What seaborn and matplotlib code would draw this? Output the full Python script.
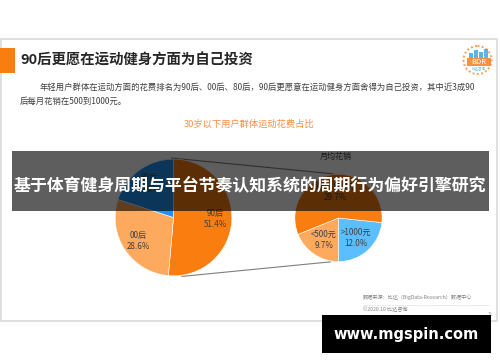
import numpy as np
import matplotlib
matplotlib.use("Agg")
import matplotlib.pyplot as plt
from matplotlib.patches import Rectangle, Circle
import seaborn as sns

# 数据
age_groups = ["90后", "00后", "80后"]
age_share = [51.4, 28.6, 20.0]
spend_groups = [">1000元", "<500元", "500-1000元"]
spend_share = [12.0, 9.7, 29.7]

page_title = "90后更愿在运动健身方面为自己投资"
intro_line1 = "年轻用户群体在运动方面的花费排名为90后、00后、80后，90后更愿意在运动健身方面舍得为自己投资，其中近3成90"
intro_line2 = "后每月花销在500到1000元。"
chart_title = "30岁以下用户群体运动花费占比"
sub_title = "月均花销"
banner_text = "基于体育健身周期与平台节奏认知系统的周期行为偏好引擎研究"
source_text = "数据来源：比达（BigData-Research）数据中心"
copy_text = "©2020.10 比达咨询"
watermark = "www.mgspin.com"

sns.set_theme(style="white")
plt.rcParams["font.family"] = ["Noto Sans CJK SC", "DejaVu Sans"]

W, H = 500, 362
ORANGE = "#FA7D0F"
LIGHT_ORANGE = "#FDAA5E"
BLUE = "#1E93F5"
SKY = "#5BBFFF"
TEXT = "#404040"


def pie_axes(fig, cx, cy, r):
    return fig.add_axes([(cx - r) / W, (H - (cy + r)) / H, 2 * r / W, 2 * r / H], zorder=1)


def edge(c, deg):
    cx, cy, r = c
    a = np.deg2rad(deg)
    return cx + r * np.cos(a), cy - r * np.sin(a)


def draw_pie(ax, values, names, colors, start, dist):
    wedges, _ = ax.pie(values, colors=colors, startangle=start, counterclock=False,
                       radius=1, wedgeprops=dict(linewidth=0.4, edgecolor="white"))
    for w, name, v in zip(wedges, names, values):
        a = np.deg2rad((w.theta1 + w.theta2) / 2)
        ax.text(dist * np.cos(a), dist * np.sin(a), f"{name}\n{v:.1f}%",
                ha="center", va="center", fontsize=5.8, color=TEXT, linespacing=1.3)
    ax.set_xlim(-1.02, 1.02)
    ax.set_ylim(-1.02, 1.02)
    ax.axis("off")


fig = plt.figure(figsize=(W / 100, H / 100), dpi=100)
fig.patch.set_facecolor("white")

# 背景层：幻灯片边框、标题、说明文字
bg = fig.add_axes([0, 0, 1, 1], zorder=0)
bg.set_xlim(0, W)
bg.set_ylim(H, 0)
bg.axis("off")
bg.add_patch(Rectangle((0.5, 39), 496.5, 282, facecolor="white", edgecolor="#d9d9d9", lw=1.2))
bg.add_patch(Rectangle((0, 48), 15, 25, color=ORANGE, lw=0))
bg.text(20, 61, page_title, fontsize=10.4, fontweight="bold", color="#262626", va="center")
bg.text(40, 87, intro_line1, fontsize=6.0, color=TEXT, va="center")
bg.text(20, 101, intro_line2, fontsize=6.0, color=TEXT, va="center")
bg.text(249, 124, chart_title, fontsize=6.7, color="#FF8D45", ha="center", va="center")
bg.text(336, 156, sub_title, fontsize=5.8, color=TEXT, ha="center", va="center")

# BDR 标志（近似）
bg.add_patch(Circle((477.5, 60), 14, fill=False, edgecolor="#F8A060", lw=1.4, ls=(0, (1, 1.2))))
for bx, bh in zip([469, 474, 479, 484], [6, 9, 7, 10]):
    bg.add_patch(Rectangle((bx, 59 - bh), 4, bh, color="#5AB4E5", lw=0))
bg.add_patch(Rectangle((467, 58), 24, 8, color="#F89040", lw=0))
bg.text(479, 62.2, "BDR", fontsize=5.5, color="white", ha="center", va="center")
bg.text(479, 69.5, "比达咨询", fontsize=2.5, color="#5AB4E5", ha="center", va="center")

# 页脚
bg.text(363, 297, source_text, fontsize=3.7, color="#808080", va="center")
bg.plot([363, 489], [305, 305], color="#d0d0d0", lw=0.6, ls=(0, (1, 1)))
bg.text(363, 309.5, copy_text, fontsize=3.7, color="#808080", va="center")
bg.text(490, 314, "21", fontsize=3.3, color="#a0a0a0", ha="center", va="center")

# 饼图
L = (173.5, 217.5, 59.5)
R = (338.5, 218.0, 44.5)
ax_l = pie_axes(fig, *L)
draw_pie(ax_l, age_share, age_groups, [ORANGE, LIGHT_ORANGE, BLUE], 90, 0.72)
ax_r = pie_axes(fig, *R)
draw_pie(ax_r, spend_share, spend_groups, [SKY, LIGHT_ORANGE, ORANGE], -6, 0.6)

# 连接线
for a_l, a_r in [(92, 97), (-82, -100)]:
    p, q = edge(L, a_l), edge(R, a_r)
    bg.plot([p[0], q[0]], [p[1], q[1]], color="#7f7f7f", lw=0.8)

# 顶层：横幅和水印
top = fig.add_axes([0, 0, 1, 1], zorder=5)
top.set_xlim(0, W)
top.set_ylim(H, 0)
top.patch.set_alpha(0)
top.axis("off")
top.add_patch(Rectangle((12, 151), 477, 60, color="black", alpha=0.63, lw=0))
top.text(250, 185, banner_text, fontsize=12.2, fontweight="bold", color="white",
         ha="center", va="center")
top.add_patch(Rectangle((322, 315), 169, 38, color="black", lw=0))
top.text(406, 335, watermark, fontsize=10.5, fontweight="bold", color="white",
         family="DejaVu Sans", ha="center", va="center")

fig.savefig("out.png", dpi=100)
